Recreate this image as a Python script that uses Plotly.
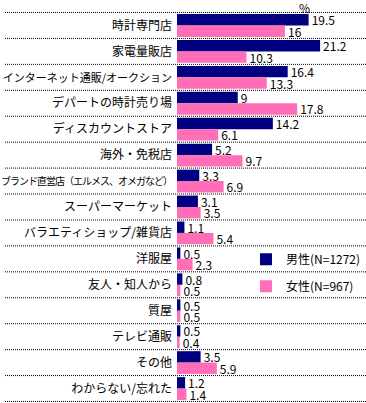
import plotly.graph_objects as go

categories = ["時計専門店", "家電量販店", "インターネット通販/オークション", "デパートの時計売り場",
              "ディスカウントストア", "海外・免税店", "ブランド直営店（エルメス、オメガなど）",
              "スーパーマーケット", "バラエティショップ/雑貨店", "洋服屋", "友人・知人から",
              "質屋", "テレビ通販", "その他", "わからない/忘れた"]
male = [19.5, 21.2, 16.4, 9, 14.2, 5.2, 3.3, 3.1, 1.1, 0.5, 0.8, 0.5, 0.5, 3.5, 1.2]
female = [16, 10.3, 13.3, 17.8, 6.1, 9.7, 6.9, 3.5, 5.4, 2.3, 0.5, 0.5, 0.4, 5.9, 1.4]
series_names = ["男性(N=1272)", "女性(N=967)"]
colors = ["#000080", "#FF6EB7"]

FONT = "Noto Sans CJK JP"

def tick_label(s):
    if len(s) > 17:
        return f'<span style="font-size:10px;letter-spacing:-1px">{s}</span>'
    if len(s) > 14:
        return f'<span style="font-size:11px">{s}</span>'
    return s

fig = go.Figure()
for name, vals, col, grp in zip(series_names, [male, female], colors, ["m", "f"]):
    fig.add_trace(go.Bar(
        y=categories, x=vals, name=name, orientation="h",
        marker=dict(color=col, line=dict(width=0)),
        text=[f"{v:g}" for v in vals], textposition="outside",
        textfont=dict(size=12, color="black", family=FONT),
        constraintext="none",
        cliponaxis=False, legendgroup=grp,
    ))

shapes = []
for i in range(len(categories) + 1):
    shapes.append(dict(type="line", xref="paper", yref="y",
                       x0=-0.91, x1=1.0, y0=i - 0.5, y1=i - 0.5,
                       line=dict(color="black", width=1, dash="1px,1px")))

fig.update_layout(
    template="none",
    width=366, height=403,
    margin=dict(l=177, r=0, t=12, b=1, pad=0),
    barmode="group", bargap=0.12, bargroupgap=0,
    paper_bgcolor="white", plot_bgcolor="white",
    font=dict(family=FONT, size=12, color="black"),
    xaxis=dict(range=[0, 28], showgrid=False, showticklabels=False, zeroline=False,
               showline=False, ticks="", automargin=False),
    yaxis=dict(autorange="reversed", showgrid=False, zeroline=False, showline=False,
               ticks="", tickvals=categories, ticktext=[tick_label(c) for c in categories],
               ticklabelstandoff=4, tickfont=dict(size=12, family=FONT, color="black"),
               automargin=False),
    shapes=shapes,
    legend=dict(x=1.0, y=0.403, xanchor="right", yanchor="top",
                traceorder="grouped", tracegroupgap=8,
                font=dict(size=12, family=FONT, color="black"),
                bgcolor="rgba(0,0,0,0)", itemwidth=30),
    showlegend=True,
    hovermode=False,
    annotations=[dict(text="%", xref="paper", yref="paper", x=0.677, y=1.0128,
                      showarrow=False, xanchor="center", yanchor="middle",
                      font=dict(size=12, family=FONT, color="black"))],
)

fig.write_html("out.html", config={"displayModeBar": False},
               post_script="document.body.style.margin='0';")
